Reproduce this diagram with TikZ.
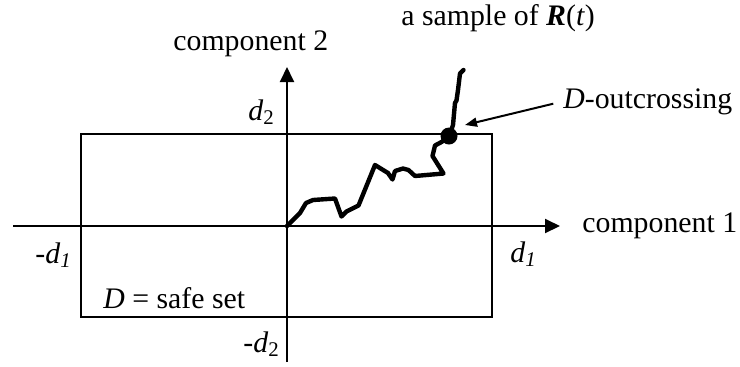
\documentclass[tikz,border=0pt]{standalone}
\usepackage{fontspec}
\setmainfont{Liberation Serif}
\usetikzlibrary{arrows.meta}
\begin{document}
\begin{tikzpicture}[x=0.5pt,y=-0.5pt,
  lbl/.style={inner sep=0pt,anchor=base west,font=\fontsize{14.9pt}{18pt}\selectfont},
  axis/.style={line width=1pt,-{Triangle[length=7.5pt,width=7pt]}},
  boxline/.style={line width=1pt},
  traj/.style={line width=2.2pt,line join=round,line cap=round},
  pointer/.style={line width=1pt,-{Triangle[length=6pt,width=4.5pt]}}]
\useasboundingbox (0,0) rectangle (740,366);
% axes
\coordinate (xs) at (13,226);
\coordinate (xe) at (560,226);
\coordinate (ys) at (287,362);
\coordinate (ye) at (287,67);
\coordinate (o) at (287,226);
\draw[axis] (xs) -- (xe);
\draw[axis] (ys) -- (ye);
% safe set
\coordinate (bl) at (81,317);
\coordinate (tr) at (492,134);
\draw[boxline] (bl) rectangle (tr);
% sample path
\draw[traj] (o) -- (300,213) -- (306,203) -- (313,200) -- (335,198.5) -- (341.5,216.5)
  -- (346.5,211.5) -- (358.5,205.5) -- (375,165) -- (388,173) -- (392.5,179.5)
  -- (395,171) -- (403,168.5) -- (408.5,170) -- (415,176) -- (443.5,173.5)
  -- (432.5,156) -- (435,145.5) -- (441.5,142) -- (449,137) -- (453,125)
  -- (455,103) -- (456.5,100.5) -- (458,90) -- (460,73.5) -- (463.5,70);
\node[circle,fill,inner sep=0pt,minimum size=8.5pt] (dot) at (449,136) {};
% labels
\node[lbl] (c1) at (582,232) {component 1};
\node[lbl] (c2) at (173,50) {component 2};
\node[lbl] (smp) at (401,25) {a sample of \textbf{\textit{R}}(\textit{t})};
\node[lbl] (out) at (563,108) {\textit{D}-outcrossing};
\node[lbl] (d2) at (248,120) {\textit{d}\textsubscript{2}};
\node[lbl] (d1) at (510,262) {\textit{d}\textsubscript{\textit{1}}};
\node[lbl] (md1) at (35,263) {-\textit{d}\textsubscript{\textit{1}}};
\node[lbl] (md2) at (243,352) {-\textit{d}\textsubscript{2}};
\node[lbl] (safe) at (103,308) {\textit{D} = safe set};
% pointer
\coordinate (tip) at (465,125);
\draw[pointer,shorten <=5pt] (out.west) -- (tip);
\end{tikzpicture}
\end{document}
